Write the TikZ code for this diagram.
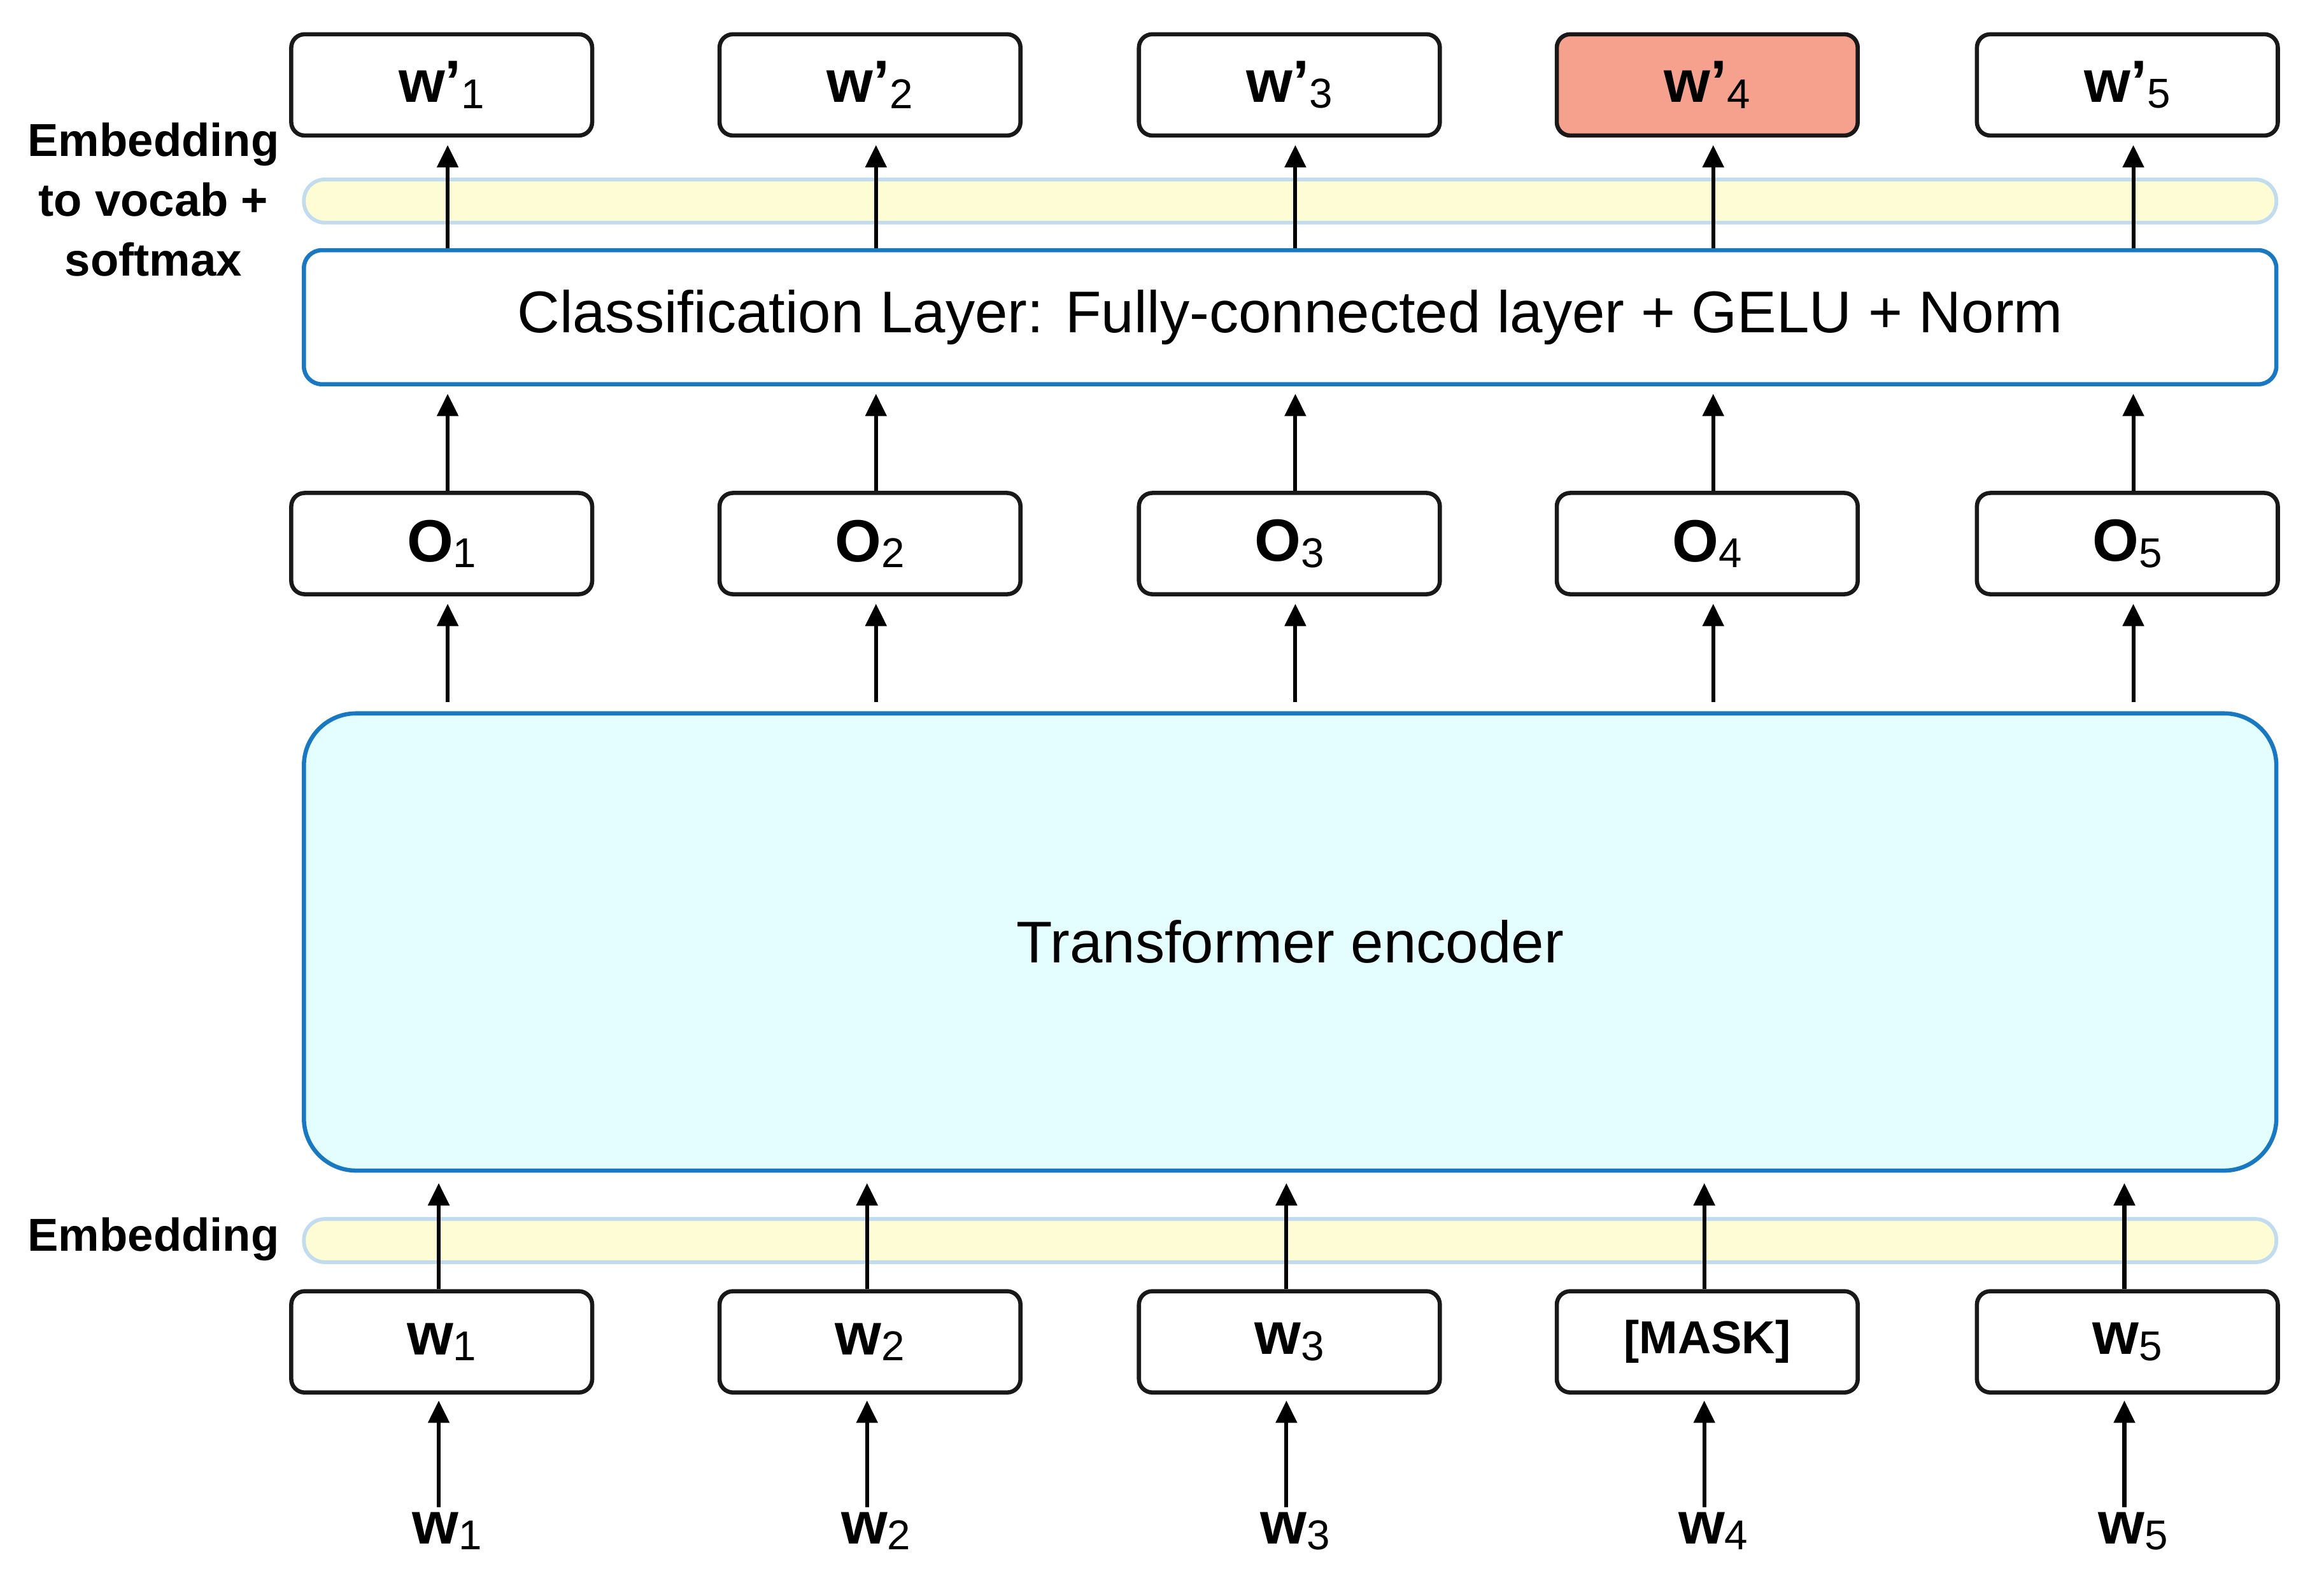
\documentclass[tikz,border=0pt]{standalone}
\usepackage{fontspec}
\setmainfont{Liberation Sans}
\usetikzlibrary{arrows.meta,calc}
\definecolor{blueline}{RGB}{24,120,194}
\definecolor{barfill}{RGB}{253,252,212}
\definecolor{barline}{RGB}{192,220,238}
\definecolor{tfill}{RGB}{228,254,255}
\definecolor{salmon}{RGB}{245,161,142}
\definecolor{boxline}{RGB}{25,25,25}
\newcommand{\tok}[2]{{\fontsize{40}{40}\selectfont\bfseries #1}{\fontsize{28}{28}\selectfont\raisebox{-4pt}{#2}}}
\begin{document}
\begin{tikzpicture}[x=1pt,y=-1pt,
  tokbox/.style={draw=boxline, line width=2.8pt, rounded corners=9pt, minimum width=202pt, minimum height=68pt, inner sep=0pt, fill=white},
  bar/.style={draw=barline, fill=barfill, line width=2.5pt, rounded corners=14pt, minimum width=1324pt, minimum height=29pt, inner sep=0pt},
  layer/.style={draw=blueline, line width=2.8pt, inner sep=0pt, minimum width=1324pt},
  arr/.style={line width=2.6pt, -{Triangle[length=15pt,width=14pt]}},
  side/.style={font=\fontsize{31}{40}\selectfont\bfseries, align=center, inner sep=0pt},
  plain/.style={inner sep=0pt}
]
\useasboundingbox (0,0) rectangle (1560,1058);

% arrow columns (upper part slightly right, lower part slightly left of box centres)
\coordinate (u1) at (300.5,0); \coordinate (u2) at (588,0); \coordinate (u3) at (869.5,0);
\coordinate (u4) at (1150,0); \coordinate (u5) at (1432,0);
\coordinate (d1) at (294.5,0); \coordinate (d2) at (582,0); \coordinate (d3) at (863.5,0);
\coordinate (d4) at (1144,0); \coordinate (d5) at (1426,0);

% top output tokens
\node[tokbox] (t1) at (296.5,57) {\tok{w’}{1}};
\node[tokbox] (t2) at (584,57) {\tok{w’}{2}};
\node[tokbox] (t3) at (865.5,57) {\tok{w’}{3}};
\node[tokbox, fill=salmon] (t4) at (1146,57) {\tok{w’}{4}};
\node[tokbox] (t5) at (1428,57) {\tok{w’}{5}};

\node[bar] (vb) at (866,135) {};
\node[layer, rounded corners=12pt, minimum height=90pt, fill=white, font=\fontsize{39.5}{40}\selectfont] (cls) at (866,213) {Classification Layer: Fully-connected layer + GELU + Norm};

% outputs
\node[tokbox] (o1) at (296.5,365) {\tok{O}{1}};
\node[tokbox] (o2) at (584,365) {\tok{O}{2}};
\node[tokbox] (o3) at (865.5,365) {\tok{O}{3}};
\node[tokbox] (o4) at (1146,365) {\tok{O}{4}};
\node[tokbox] (o5) at (1428,365) {\tok{O}{5}};

\node[layer, rounded corners=35pt, minimum height=307pt, fill=tfill, font=\fontsize{39.5}{40}\selectfont] (enc) at (866,632.5) {Transformer encoder};

\node[bar] (eb) at (866,833) {};

% input tokens
\node[tokbox] (w1) at (296.5,901) {\tok{w}{1}};
\node[tokbox] (w2) at (584,901) {\tok{w}{2}};
\node[tokbox] (w3) at (865.5,901) {\tok{w}{3}};
\node[tokbox] (w4) at (1146,901) {\fontsize{31}{31}\selectfont\bfseries [MASK]};
\node[tokbox] (w5) at (1428,901) {\tok{w}{5}};

\node[plain] (x1) at (300,1028) {\tok{w}{1}};
\node[plain] (x2) at (588,1028) {\tok{w}{2}};
\node[plain] (x3) at (869.5,1028) {\tok{w}{3}};
\node[plain] (x4) at (1150,1028) {\tok{w}{4}};
\node[plain] (x5) at (1432,1028) {\tok{w}{5}};

% side labels
\node[side] (lab1) at (103,134) {Embedding\\to vocab +\\softmax};
\node[side] (lab2) at (103,832) {Embedding};

% connectors
\foreach \i in {1,...,5} {
  \draw[arr, shorten >=5pt] (cls.north -| u\i) -- (t\i.south -| u\i);
  \draw[arr, shorten >=5pt] (o\i.north -| u\i) -- (cls.south -| u\i);
  \draw[arr, shorten <=6pt, shorten >=5pt] (enc.north -| u\i) -- (o\i.south -| u\i);
  \draw[arr, shorten >=7pt] (w\i.north -| d\i) -- (enc.south -| d\i);
  \draw[arr, shorten <=3pt, shorten >=4pt] (x\i.north -| d\i) -- (w\i.south -| d\i);
}
\end{tikzpicture}
\end{document}
